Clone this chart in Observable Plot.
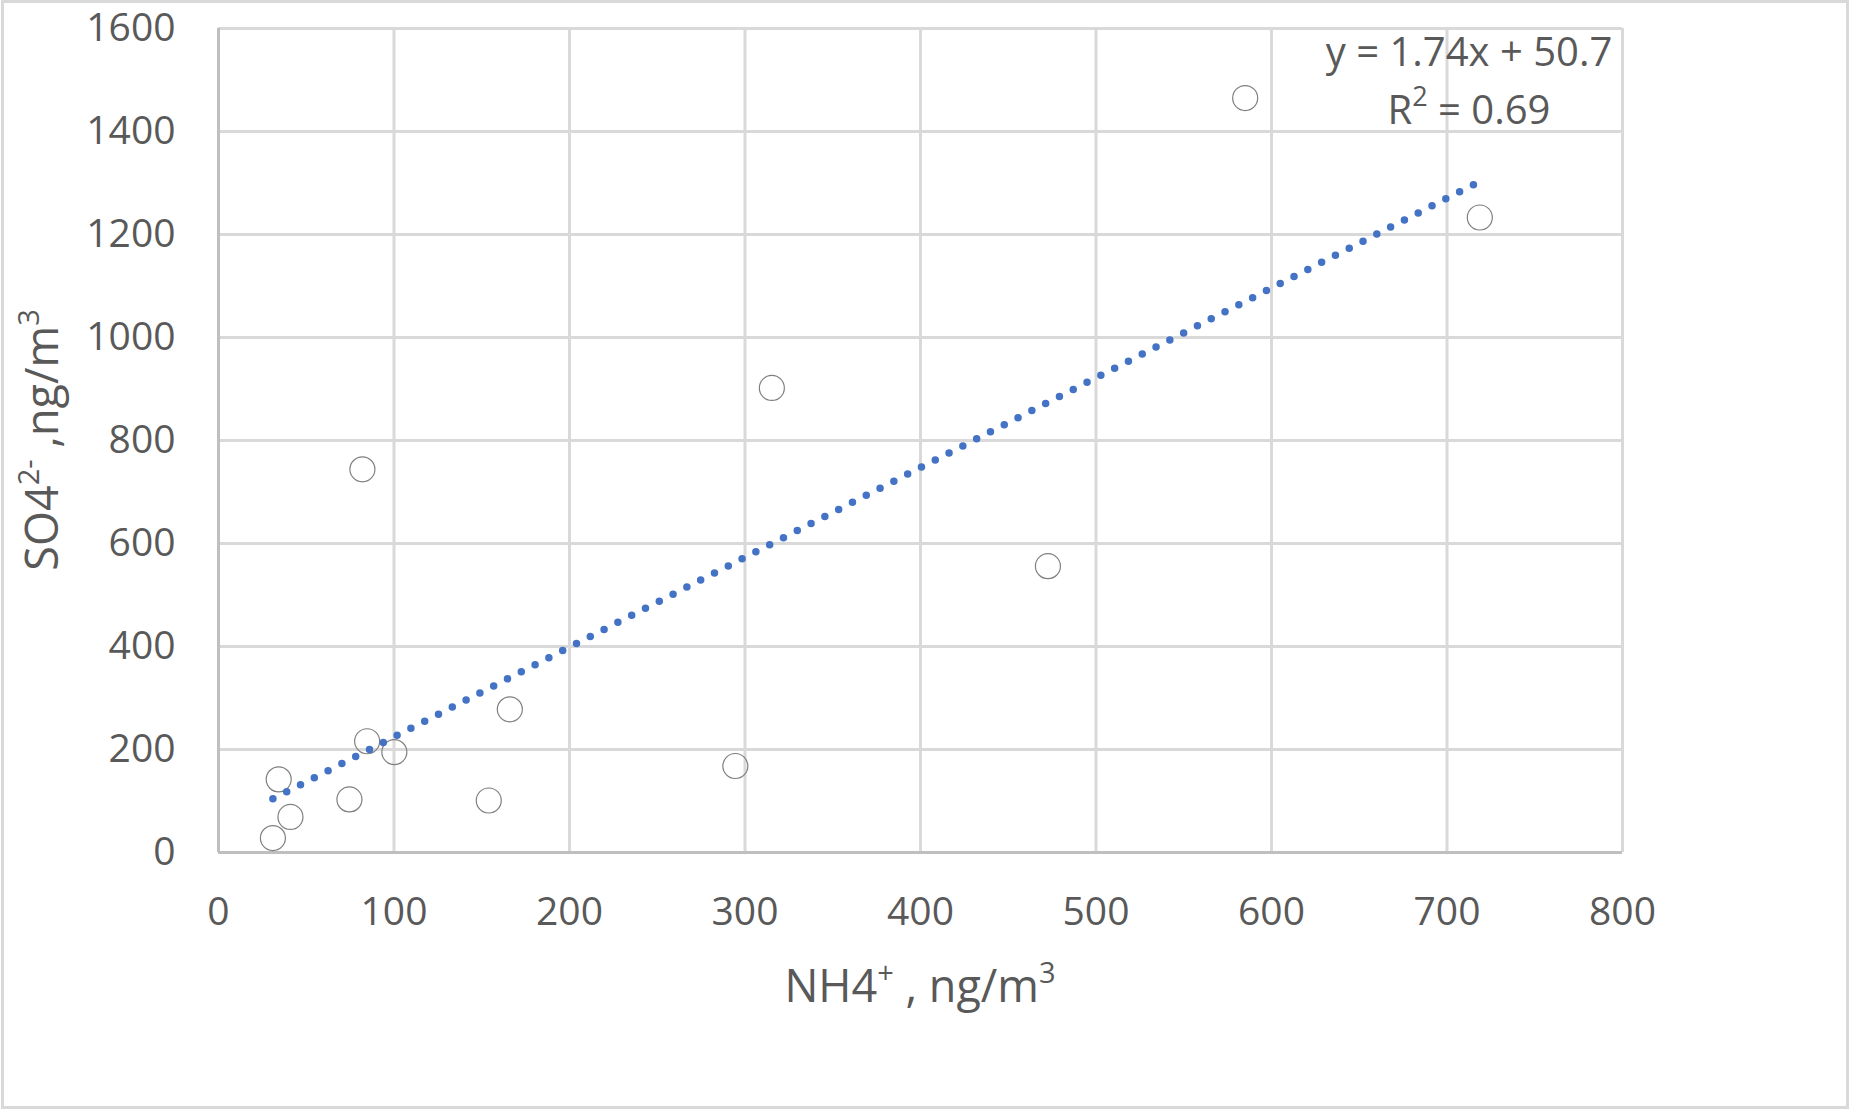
<!DOCTYPE html>
<html>
<head>
<meta charset="utf-8">
<script src="https://cdn.jsdelivr.net/npm/d3@7"></script>
<script src="https://cdn.jsdelivr.net/npm/@observablehq/plot@0.6"></script>
<style>
  html, body { margin: 0; padding: 0; background: #fff; }
  #chart { width: 1850px; height: 1110px; }
</style>
</head>
<body>
<div id="chart"></div>
<script>
// NH4+ (ng/m3) vs SO4 2- (ng/m3)
const nh4 = [585, 718.7, 315.3, 82, 472.6, 166, 84.7, 100.2, 294.5, 34.3, 74.6, 154, 41, 31];
const so4 = [1465, 1233, 902, 744, 556, 278, 216, 195, 168, 142, 103, 101, 69, 28];
const xTicks = [0, 100, 200, 300, 400, 500, 600, 700, 800];
const yTicks = [0, 200, 400, 600, 800, 1000, 1200, 1400, 1600];
const equationText = "y = 1.74x + 50.7";
const r2Label = "0.69";

const data = nh4.map((x, i) => ({x, y: so4[i]}));

const textColor = "#595959";
const W = 1850, H = 1110;
const mL = 218, mR = 228, mT = 28, mB = 258;

const chart = Plot.plot({
  width: W,
  height: H,
  marginLeft: mL,
  marginRight: mR,
  marginTop: mT,
  marginBottom: mB,
  style: {fontFamily: "'Open Sans', sans-serif", fontSize: "39px", color: textColor, background: "#fff"},
  x: {domain: [0, 800]},
  y: {domain: [0, 1600]},
  marks: [
    Plot.gridX(xTicks, {stroke: "#d9d9d9", strokeWidth: 3, strokeOpacity: 1}),
    Plot.gridY(yTicks, {stroke: "#d9d9d9", strokeWidth: 3, strokeOpacity: 1}),
    Plot.ruleX([0], {stroke: "#bfbfbf", strokeWidth: 3}),
    Plot.ruleY([0], {stroke: "#bfbfbf", strokeWidth: 3}),
    Plot.axisX(xTicks, {tickSize: 0, tickPadding: 45, label: null, fill: textColor, tickFormat: d => String(d)}),
    Plot.axisY(yTicks, {tickSize: 0, tickPadding: 43, label: null, fill: textColor, tickFormat: d => String(d)}),
    Plot.dot(data, {x: "x", y: "y", r: 12.5, stroke: "#7f7f7f", strokeWidth: 1.2, fill: "none"}),
    Plot.linearRegressionY(data, {x: "x", y: "y", ci: 0, stroke: "#4472C4", strokeWidth: 7.5,
      strokeDasharray: "0 15.5", strokeLinecap: "round"})
  ]
});

document.getElementById("chart").appendChild(chart);

const svg = d3.select(chart);

// outer chart border
svg.append("rect")
  .attr("x", 2.5).attr("y", 1.5)
  .attr("width", 1845).attr("height", 1106)
  .attr("fill", "none").attr("stroke", "#d9d9d9").attr("stroke-width", 3);

const font = "'Open Sans', sans-serif";

// X axis title
const xt = svg.append("text")
  .attr("x", 920).attr("y", 1002)
  .attr("text-anchor", "middle")
  .attr("font-family", font).attr("font-size", 45).attr("fill", textColor);
xt.append("tspan").text("NH4");
xt.append("tspan").attr("baseline-shift", "super").attr("font-size", 29).text("+");
xt.append("tspan").text(" , ng/m");
xt.append("tspan").attr("baseline-shift", "super").attr("font-size", 29).text("3");

// Y axis title
const yt = svg.append("text")
  .attr("transform", "translate(58,440) rotate(-90)")
  .attr("text-anchor", "middle")
  .attr("font-family", font).attr("font-size", 45).attr("fill", textColor);
yt.append("tspan").text("SO4");
yt.append("tspan").attr("baseline-shift", "super").attr("font-size", 29).text("2-");
yt.append("tspan").text(" ,ng/m");
yt.append("tspan").attr("baseline-shift", "super").attr("font-size", 29).text("3");

// Trendline equation
svg.append("text")
  .attr("x", 1469).attr("y", 66)
  .attr("text-anchor", "middle")
  .attr("font-family", font).attr("font-size", 40).attr("fill", textColor)
  .text(equationText);
const r2 = svg.append("text")
  .attr("x", 1469).attr("y", 124)
  .attr("text-anchor", "middle")
  .attr("font-family", font).attr("font-size", 40).attr("fill", textColor);
r2.append("tspan").text("R");
r2.append("tspan").attr("baseline-shift", "super").attr("font-size", 27).text("2");
r2.append("tspan").text(" = " + r2Label);
</script>
</body>
</html>
